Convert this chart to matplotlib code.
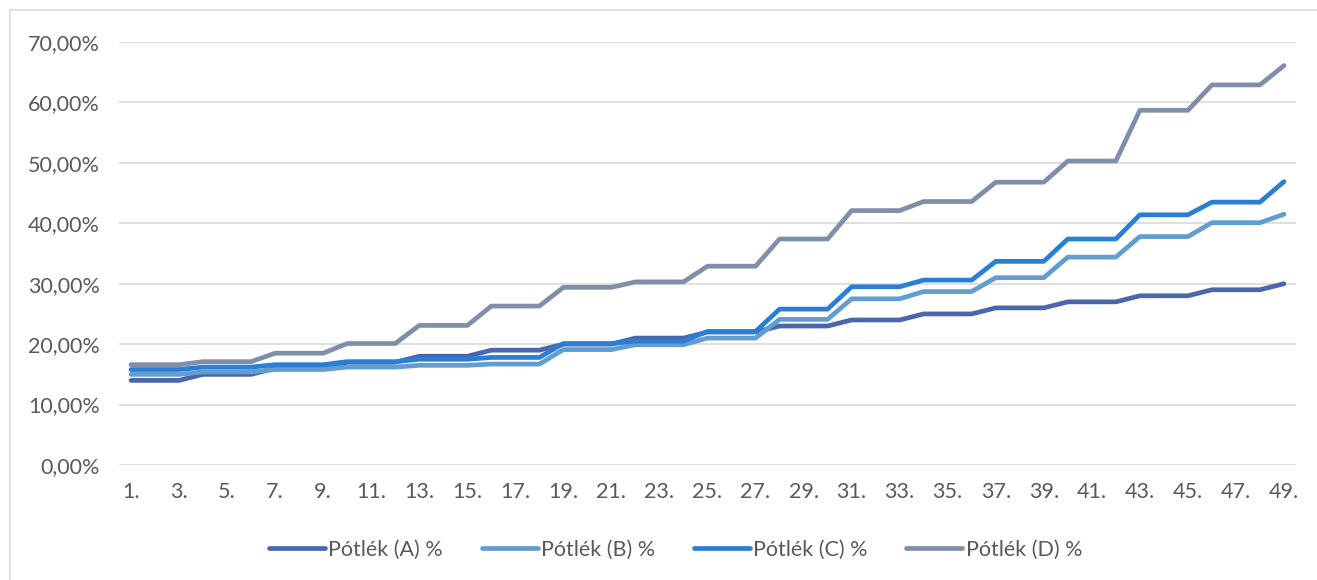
import matplotlib.pyplot as plt
from matplotlib.lines import Line2D
from matplotlib.ticker import FuncFormatter

plt.rcParams['font.family'] = ['Lato', 'DejaVu Sans']

# kategóriák 1. - 49.
napok = list(range(1, 50))
cimkek = [f'{n}.' for n in napok]

# pótlék értékek (%)
potlek_a = [14, 14, 14, 15, 15, 15, 16, 16, 16, 17, 17, 17, 18, 18, 18, 19, 19, 19,
            20, 20, 20, 21, 21, 21, 22, 22, 22, 23, 23, 23, 24, 24, 24, 25, 25, 25,
            26, 26, 26, 27, 27, 27, 28, 28, 28, 29, 29, 29, 30]
potlek_b = [15.0, 15.0, 15.0, 15.4, 15.4, 15.4, 15.8, 15.8, 15.8, 16.2, 16.2, 16.2,
            16.5, 16.5, 16.5, 16.7, 16.7, 16.7, 19.1, 19.1, 19.1, 19.9, 19.9, 19.9,
            21.0, 21.0, 21.0, 24.1, 24.1, 24.1, 27.5, 27.5, 27.5, 28.7, 28.7, 28.7,
            31.0, 31.0, 31.0, 34.4, 34.4, 34.4, 37.8, 37.8, 37.8, 40.1, 40.1, 40.1, 41.5]
potlek_c = [15.8, 15.8, 15.8, 16.2, 16.2, 16.2, 16.6, 16.6, 16.6, 17.1, 17.1, 17.1,
            17.5, 17.5, 17.5, 17.8, 17.8, 17.8, 20.1, 20.1, 20.1, 20.5, 20.5, 20.5,
            22.1, 22.1, 22.1, 25.8, 25.8, 25.8, 29.5, 29.5, 29.5, 30.6, 30.6, 30.6,
            33.7, 33.7, 33.7, 37.4, 37.4, 37.4, 41.4, 41.4, 41.4, 43.5, 43.5, 43.5, 46.9]
potlek_d = [16.6, 16.6, 16.6, 17.1, 17.1, 17.1, 18.5, 18.5, 18.5, 20.1, 20.1, 20.1,
            23.1, 23.1, 23.1, 26.3, 26.3, 26.3, 29.4, 29.4, 29.4, 30.3, 30.3, 30.3,
            32.9, 32.9, 32.9, 37.4, 37.4, 37.4, 42.1, 42.1, 42.1, 43.6, 43.6, 43.6,
            46.8, 46.8, 46.8, 50.3, 50.3, 50.3, 58.7, 58.7, 58.7, 62.9, 62.9, 62.9, 66.1]

sorozatok = [
    ('Pótlék (A) %', potlek_a, '#4a66ac'),
    ('Pótlék (B) %', potlek_b, '#629dd1'),
    ('Pótlék (C) %', potlek_c, '#297fd5'),
    ('Pótlék (D) %', potlek_d, '#7f8fa9'),
]

fig = plt.figure(figsize=(13.17, 5.8), dpi=100)
ax = fig.add_axes([119 / 1317, 115 / 580, 1177 / 1317, 423 / 580])

for nev, ertekek, szin in sorozatok:
    ax.plot(napok, ertekek, color=szin, linewidth=3.4, label=nev,
            solid_capstyle='round', solid_joinstyle='round')

ax.set_xlim(0.5, 49.5)
ax.set_ylim(0, 70)
ax.set_yticks(range(0, 71, 10))
ax.yaxis.set_major_formatter(FuncFormatter(lambda v, p: f'{v:.2f}%'.replace('.', ',')))
ax.set_xticks(napok[::2])
ax.set_xticklabels(cimkek[::2])

ax.grid(axis='y', color='#d9d9d9', linewidth=1.2)
ax.set_axisbelow(True)
for s in ax.spines.values():
    s.set_visible(False)
ax.tick_params(axis='both', length=0, labelsize=15.5, colors='#595959')
ax.tick_params(axis='y', pad=14)
ax.tick_params(axis='x', pad=12)

ax.legend(loc='center', bbox_to_anchor=(0.513, 0.052), bbox_transform=fig.transFigure,
          ncol=4, frameon=False, fontsize=15.5, handlelength=2.6,
          handletextpad=0.15, columnspacing=1.8, labelcolor='#595959')

# diagram kerete
fig.add_artist(Line2D([10 / 1317, 10 / 1317], [0, 1 - 10 / 580], color='#d9d9d9', linewidth=1.2))
fig.add_artist(Line2D([10 / 1317, 1], [1 - 10 / 580, 1 - 10 / 580], color='#d9d9d9', linewidth=1.2))

fig.savefig('out.png', dpi=100)
